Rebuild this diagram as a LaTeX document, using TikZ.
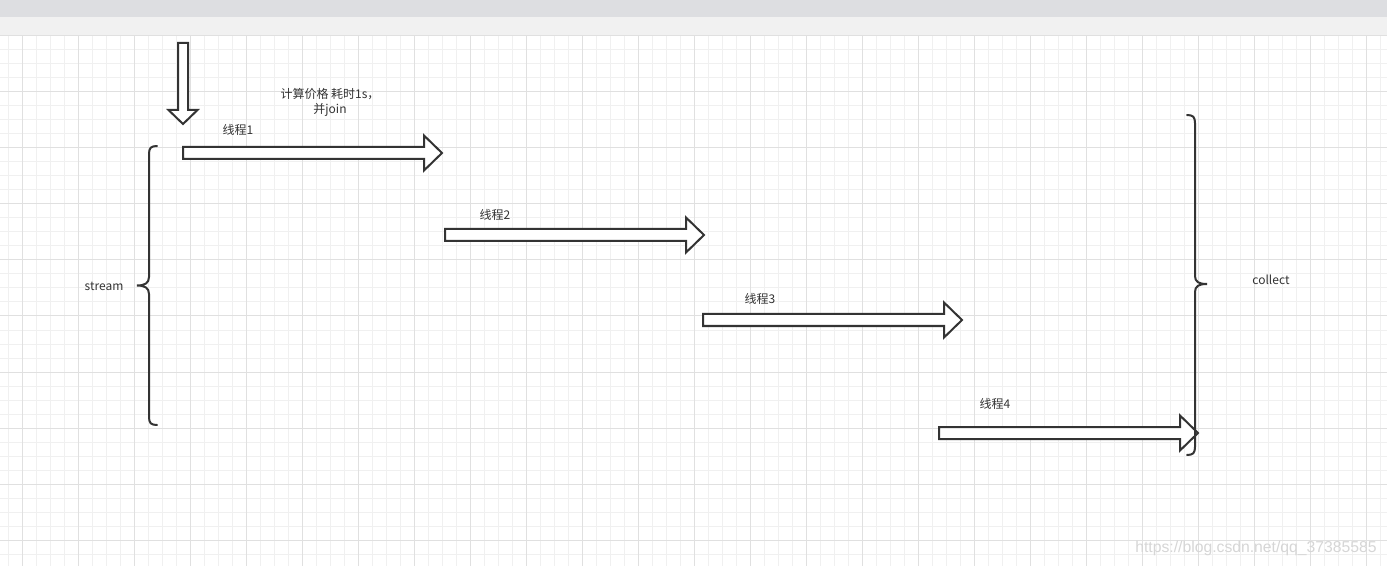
\documentclass[tikz,border=0pt]{standalone}
\usepackage{fontspec}
\setmainfont{Noto Sans CJK SC}
\newfontfamily\wmfont{Liberation Sans}
\definecolor{topband}{RGB}{221,222,225}
\definecolor{subband}{RGB}{241,241,241}
\definecolor{gridminor}{RGB}{240,240,240}
\definecolor{gridmajor}{RGB}{224,224,224}
\definecolor{ink}{RGB}{51,51,51}
\definecolor{wmgray}{RGB}{214,214,214}
\begin{document}
\begin{tikzpicture}[x=0.75pt,y=-0.75pt,
  shapeline/.style={draw=ink,line width=1.5pt,fill=white,line join=miter},
  braceline/.style={draw=ink,line width=1.5pt,line cap=round},
  lbl/.style={text=ink,font=\fontsize{9pt}{11.25pt}\selectfont,inner sep=0pt},
  rarrow/.pic={\draw[shapeline] (0,-6) -- (241,-6) -- (241,-17.5) -- (259,0) -- (241,17.5) -- (241,6) -- (0,6) -- cycle;},
  darrow/.pic={\draw[shapeline] (-5,0) -- (5,0) -- (5,67) -- (14.5,67) -- (0,81) -- (-14.5,67) -- (-5,67) -- cycle;}
]
\useasboundingbox (0,0) rectangle (1387,566);
% background
\fill[white] (0,0) rectangle (1387,566);
\fill[topband] (0,0) rectangle (1387,17);
\fill[subband] (0,17) rectangle (1387,36);
\foreach \gx in {8,22,...,1386} \draw[gridminor,line width=0.75pt] (\gx,36) -- (\gx,566);
\foreach \gy in {36,50,...,566} \draw[gridminor,line width=0.75pt] (0,\gy) -- (1387,\gy);
\foreach \gx in {22,78,...,1386} \draw[gridmajor,line width=0.75pt] (\gx,36) -- (\gx,566);
\foreach \gy in {36,92,...,566} \draw[gridmajor,line width=0.75pt] (0,\gy) -- (1387,\gy);

% arrows
\pic (down) at (183,43) {darrow};
\pic (t1) at (183,153) {rarrow};
\pic (t2) at (445,235) {rarrow};
\pic (t3) at (703,320) {rarrow};
\pic (t4) at (939,433) {rarrow};

% braces
\draw[braceline] (157,146) .. controls (151,146) and (149,148) .. (149,154) -- (149,277)
  .. controls (149,283) and (145,285.5) .. (137,285.5)
  .. controls (145,285.5) and (149,288) .. (149,294) -- (149,417)
  .. controls (149,423) and (151,425) .. (157,425);
\draw[braceline] (1187,115) .. controls (1193,115) and (1195,117) .. (1195,123) -- (1195,276)
  .. controls (1195,282) and (1199,284) .. (1207,284)
  .. controls (1199,284) and (1195,286) .. (1195,292) -- (1195,447)
  .. controls (1195,453) and (1193,455) .. (1187,455);

% labels
\node[lbl,align=center] (calc) at (330,102.5) {计算价格 耗时1s，\\并join};
\node[lbl] (l1) at (238,130) {线程1};
\node[lbl] (l2) at (495,215) {线程2};
\node[lbl] (l3) at (760,299) {线程3};
\node[lbl] (l4) at (995,404) {线程4};
\node[lbl] (stream) at (104,286) {stream};
\node[lbl] (collect) at (1271,280) {collect};
\node[text=wmgray,inner sep=0pt,font=\wmfont\fontsize{11.8pt}{14pt}\selectfont] (wm) at (1256,548) {https://blog.csdn.net/qq\_37385585};
\end{tikzpicture}
\end{document}
